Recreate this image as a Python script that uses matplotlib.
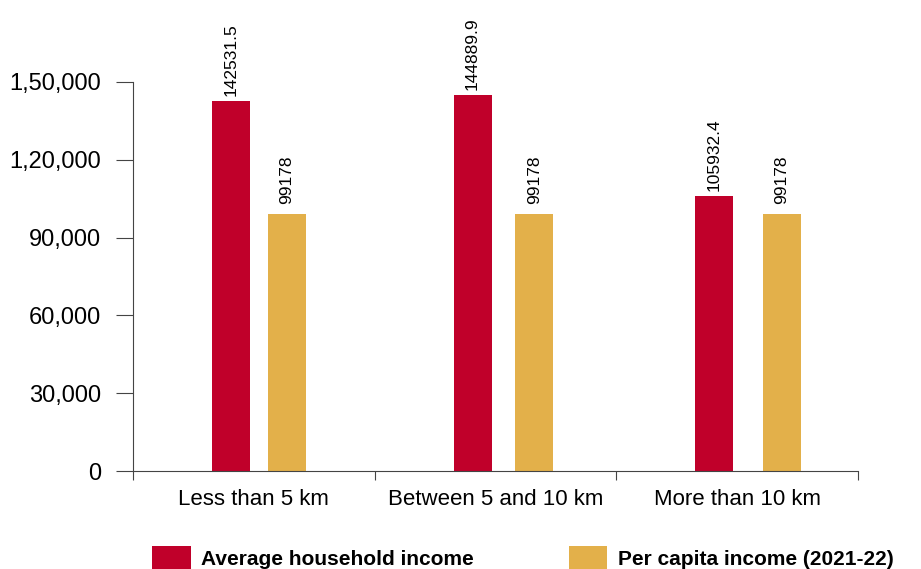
import matplotlib
matplotlib.use("Agg")
from matplotlib import pyplot as plt
from matplotlib.ticker import FuncFormatter
import numpy as np

categories = ["Less than 5 km", "Between 5 and 10 km", "More than 10 km"]
household = [142531.5, 144889.9, 105932.4]
per_capita = [99178, 99178, 99178]
series_names = ["Average household income", "Per capita income (2021-22)"]
yticks = [0, 30000, 60000, 90000, 120000, 150000]

red = "#C0002A"
yellow = "#E3B04A"

plt.rcParams['font.family'] = ['Liberation Sans', 'DejaVu Sans']

fig = plt.figure(figsize=(9.21, 5.69), dpi=100)
ax = fig.add_axes([0.1444, 0.1722, 0.7872, 0.6837])

x = np.arange(len(categories))
w = 0.157
b1 = ax.bar(x - 0.095, household, w, color=red, label=series_names[0])
b2 = ax.bar(x + np.array([0.136, 0.161, 0.186]), per_capita, w, color=yellow,
            label=series_names[1])

for bars, vals, off in ((b1, household, 4), (b2, per_capita, 7)):
    for r, v in zip(bars, vals):
        txt = f"{v:.1f}" if v % 1 else f"{int(v)}"
        ax.annotate(txt, (r.get_x() + r.get_width() / 2, r.get_height()),
                    xytext=(0, off), textcoords="offset points", rotation=90,
                    ha="center", va="bottom", fontsize=12.5, annotation_clip=False)

def indian(v, pos):
    # indian style grouping: 1,50,000
    s = str(int(v))
    if len(s) <= 3:
        return s
    last3 = s[-3:]
    rest = s[:-3]
    parts = []
    while len(rest) > 2:
        parts.insert(0, rest[-2:])
        rest = rest[:-2]
    if rest:
        parts.insert(0, rest)
    return ",".join(parts + [last3])

ax.set_ylim(0, 150000)
ax.set_xlim(-0.5, 2.5)
ax.set_yticks(yticks)
ax.yaxis.set_major_formatter(FuncFormatter(indian))
ax.set_xticks([-0.5, 0.5, 1.5, 2.5])
ax.set_xticklabels([])
ax.set_xticks(x, minor=True)
ax.set_xticklabels(categories, minor=True)
ax.tick_params(axis="x", which="minor", length=0, labelsize=16, pad=13)
ax.tick_params(axis="x", which="major", length=6.5, color="#444444")
ax.tick_params(axis="y", length=12, labelsize=17, color="#444444", pad=11)

for s in ["top", "right"]:
    ax.spines[s].set_visible(False)
ax.spines["left"].set_color("#444444")
ax.spines["bottom"].set_color("#444444")

fig.legend(loc="lower left", bbox_to_anchor=(0.145, -0.035), ncol=2, frameon=False,
           prop={"weight": "bold", "size": 15}, handlelength=1.85, handleheight=1.4,
           columnspacing=4.55, handletextpad=0.5)

plt.savefig("out.png", dpi=100)
